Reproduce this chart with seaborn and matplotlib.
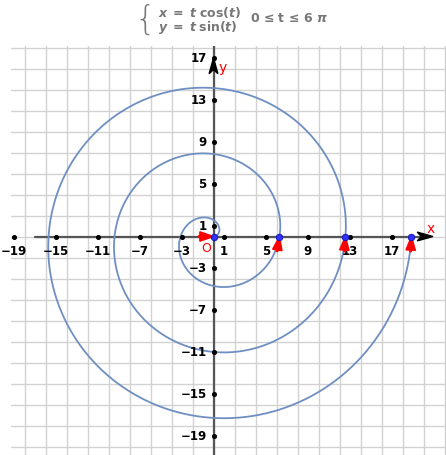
import matplotlib
matplotlib.use('Agg')
import matplotlib.pyplot as plt
import numpy as np
import seaborn as sns

# parametric curve from the title: x = t cos(t), y = t sin(t), 0 <= t <= 6 pi
t_start = 0.0
t_end = 6 * np.pi
t_marks = [0.0, 2 * np.pi, 4 * np.pi, 6 * np.pi]  # points with direction arrows

tick_values = [-19, -15, -11, -7, -3, 1, 5, 9, 13, 17]
grid_values = list(range(-20, 24, 2))

t = np.linspace(t_start, t_end, 1500)
curve_x = t * np.cos(t)
curve_y = t * np.sin(t)

sns.set_style('white')
plt.rcParams['font.family'] = ['DejaVu Sans']
plt.rcParams['mathtext.fontset'] = 'custom'
plt.rcParams['mathtext.it'] = 'DejaVu Sans:italic:bold'
plt.rcParams['mathtext.rm'] = 'DejaVu Sans:bold'
plt.rcParams['mathtext.bf'] = 'DejaVu Sans:bold'

fig = plt.figure(figsize=(4.46, 4.56), dpi=100)
W, H = 446, 456
ax = fig.add_axes([11 / W, 0, 1 - 11 / W, (H - 47) / H])
unit = 10.5
ox, oy = 213.5, 237.5

# axes lines
ax.plot([-17, 20.5], [0, 0], color='#555555', lw=1.6, zorder=2)
ax.plot([0, 0], [-21, 18.2], color='#555555', lw=1.6, zorder=2)
# black axis arrowheads
ax.fill([20.9, 19.4, 19.8, 19.4], [0, 0.42, 0, -0.42], color='black', zorder=3)
ax.fill([0, 0.42, 0, -0.42], [17.0, 15.5, 15.9, 15.5], color='black', zorder=3)

# spiral
sns.lineplot(x=curve_x, y=curve_y, sort=False, estimator=None, ax=ax,
             color='#6f8fc2', lw=1.3, zorder=4)

# tick dots and labels
ax.scatter(tick_values, [0] * len(tick_values), s=7, color='black', zorder=5)
ax.scatter([0] * len(tick_values), tick_values, s=7, color='black', zorder=5)
for v in tick_values:
    lab = str(v).replace('-', '\u2212')
    ax.text(v, -1.35, lab, ha='center', va='center', fontsize=8.5,
            fontweight='bold', color='black', zorder=6)
    ax.text(-0.65, v, lab, ha='right', va='center', fontsize=8.5,
            fontweight='bold', color='black', zorder=6)

# red direction arrows at marked parameter values
for tm in t_marks:
    px, py = tm * np.cos(tm), tm * np.sin(tm)
    dx = np.cos(tm) - tm * np.sin(tm)
    dy = np.sin(tm) + tm * np.cos(tm)
    n = np.hypot(dx, dy)
    L = 1.45
    ax.arrow(px - L * dx / n, py - L * dy / n, L * dx / n, L * dy / n,
             width=0.12, head_width=0.9, head_length=1.3,
             length_includes_head=True, color='red', zorder=7)
    ax.scatter([px], [py], s=22, color='#3030ff', edgecolor='#1010aa',
               linewidth=0.6, zorder=8)

# red axis names
ax.text(20.7, 0.85, 'x', color='red', fontsize=10, ha='center', va='center')
ax.text(0.85, 16.15, 'y', color='red', fontsize=10, ha='center', va='center')
ax.text(-0.7, -1.05, 'O', color='red', fontsize=9, ha='center', va='center')

# grid and limits (set last so nothing rescales)
ax.set_xticks(grid_values)
ax.set_yticks(grid_values)
ax.tick_params(length=0, labelbottom=False, labelleft=False)
ax.grid(True, color='#d2d2d2', lw=1.0)
ax.set_axisbelow(True)
for s in ax.spines.values():
    s.set_visible(False)
ax.set_xlim((11 - ox) / unit, (W - ox) / unit)
ax.set_ylim((oy - H) / unit, (oy - 47) / unit)

# title
gray = '#777777'
fig.text(156 / W, 1 - 20 / H, '{', fontsize=24, color=gray, ha='right',
         va='center', fontweight='light')
fig.text(158 / W, 1 - 12 / H, r'$x\;=\;t\;\mathrm{cos}(t)$', fontsize=9,
         color=gray, ha='left', va='center')
fig.text(158 / W, 1 - 28 / H, r'$y\;=\;t\;\mathrm{sin}(t)$', fontsize=9,
         color=gray, ha='left', va='center')
fig.text(250 / W, 1 - 19 / H, '0 \u2264 t \u2264 6 $\\pi$', fontsize=9,
         color=gray, ha='left', va='center', fontweight='bold')

fig.savefig('out.png', dpi=100)
